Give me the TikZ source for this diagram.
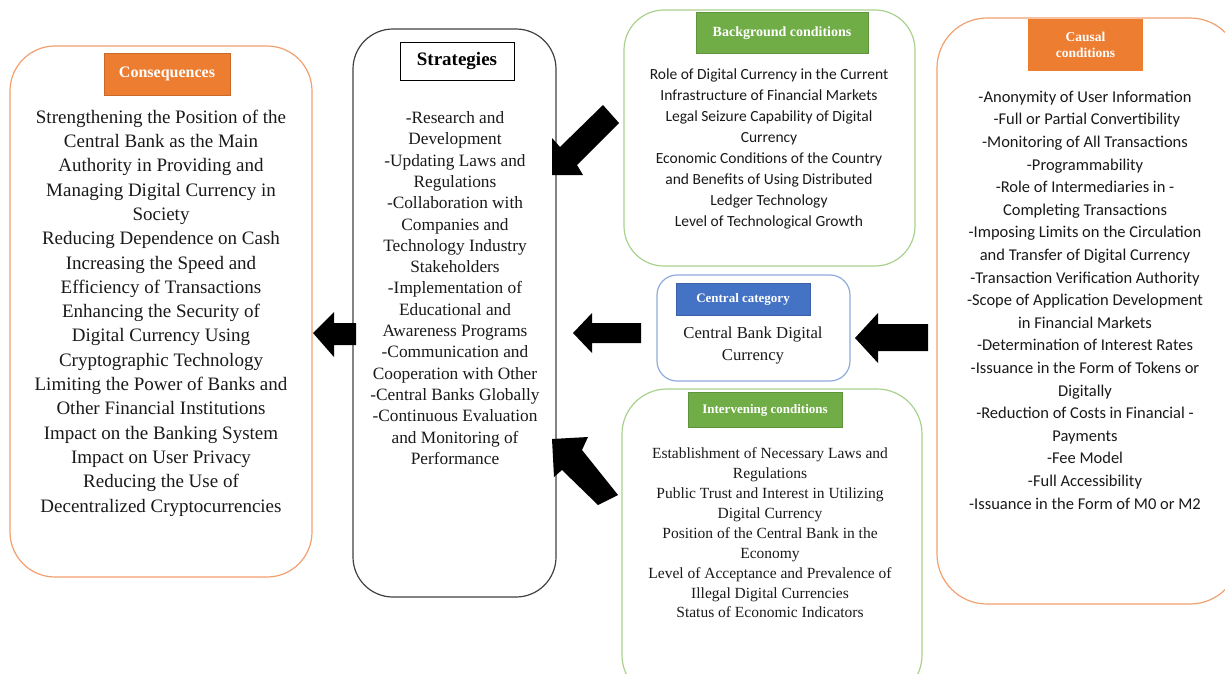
\documentclass[tikz,border=0pt]{standalone}
\usepackage{fontspec}
\setmainfont{Liberation Serif}
\newfontfamily\calfont{Carlito}
\definecolor{orfill}{RGB}{237,125,49}
\definecolor{orline}{RGB}{242,160,110}
\definecolor{grfill}{RGB}{112,173,71}
\definecolor{grline}{RGB}{169,209,142}
\definecolor{blfill}{RGB}{68,114,196}
\definecolor{blline}{RGB}{143,170,220}
\definecolor{txt}{RGB}{25,25,25}
\begin{document}
\begin{tikzpicture}[x=1pt,y=-1pt,
  frame/.style={line width=1.2pt, rounded corners=#1},
  tag/.style={inner sep=0pt, text=white, align=center, line width=0.6pt},
  body/.style={align=center, inner sep=0pt, text=txt},
  blk/.style={fill=black}]
\useasboundingbox (0,0) rectangle (1225,673);
\clip (0,0) rectangle (1225,673);

% frames
\draw[orline, frame=45pt] (10,46) rectangle (312,577);
\draw[black!75, frame=40pt] (353,29) rectangle (556,597);
\draw[grline, frame=40pt] (624,10) rectangle (915,266);
\draw[blline, frame=20pt] (657,275) rectangle (850,381);
\draw[grline, frame=45pt] (622,389) rectangle (922,700);
\draw[orline, frame=50pt] (937,18) rectangle (1240,604);

% tags
\node[tag, fill=orfill, draw=orfill!85!black, minimum width=126pt, minimum height=42pt, font=\bfseries\fontsize{16}{18}\selectfont] (consT) at (167,74) {Consequences};
\node[tag, fill=white, text=black, draw=black, minimum width=114pt, minimum height=38pt, font=\bfseries\fontsize{19}{22}\selectfont] (stratT) at (457,61) {Strategies};
\node[tag, fill=grfill, draw=grfill!85!black, minimum width=172pt, minimum height=41pt, font=\bfseries\fontsize{14}{16}\selectfont] (backT) at (782,33) {Background conditions};
\node[tag, fill=blfill, draw=blfill!85!black, minimum width=134pt, minimum height=32pt, font=\bfseries\fontsize{13}{15}\selectfont] (centT) at (743,299.5) {Central category};
\node[tag, fill=grfill, draw=grfill!85!black, minimum width=154pt, minimum height=35pt, font=\bfseries\fontsize{13}{15}\selectfont] (intT) at (765,410) {Intervening conditions};
\node[tag, fill=orfill, minimum width=115pt, minimum height=52pt, font=\bfseries\fontsize{13.5}{15.5}\selectfont] (causT) at (1085.5,45) {Causal\\conditions};

% texts
\node[body, font=\fontsize{19}{24.3}\selectfont] (consB) at (161,313) {Strengthening the Position of the\\Central Bank as the Main\\Authority in Providing and\\Managing Digital Currency in\\Society\\Reducing Dependence on Cash\\Increasing the Speed and\\Efficiency of Transactions\\Enhancing the Security of\\Digital Currency Using\\Cryptographic Technology\\Limiting the Power of Banks and\\Other Financial Institutions\\Impact on the Banking System\\Impact on User Privacy\\Reducing the Use of\\Decentralized Cryptocurrencies};

\node[body, font=\fontsize{17.3}{21.3}\selectfont] (stratB) at (455,288) {-Research and\\Development\\-Updating Laws and\\Regulations\\-Collaboration with\\Companies and\\Technology Industry\\Stakeholders\\-Implementation of\\Educational and\\Awareness Programs\\-Communication and\\Cooperation with Other\\-Central Banks Globally\\-Continuous Evaluation\\and Monitoring of\\Performance};

\node[body, font=\calfont\fontsize{15.5}{21}\selectfont] (backB) at (769,149) {Role of Digital Currency in the Current\\Infrastructure of Financial Markets\\Legal Seizure Capability of Digital\\Currency\\Economic Conditions of the Country\\and Benefits of Using Distributed\\Ledger Technology\\Level of Technological Growth};

\node[body, font=\fontsize{16.7}{22}\selectfont] (centB) at (753,345.5) {Central Bank Digital\\Currency};

\node[body, font=\fontsize{15.5}{19.9}\selectfont] (intB) at (770,533) {Establishment of Necessary Laws and\\Regulations\\Public Trust and Interest in Utilizing\\Digital Currency\\Position of the Central Bank in the\\Economy\\Level of Acceptance and Prevalence of\\Illegal Digital Currencies\\Status of Economic Indicators};

\node[body, font=\calfont\fontsize{16.5}{22.6}\selectfont] (causB) at (1085,300) {-Anonymity of User Information\\\ -Full or Partial Convertibility\\-Monitoring of All Transactions\\-Programmability\\-Role of Intermediaries in -\\Completing Transactions\\-Imposing Limits on the Circulation\\and Transfer of Digital Currency\\-Transaction Verification Authority\\-Scope of Application Development\\in Financial Markets\\-Determination of Interest Rates\\-Issuance in the Form of Tokens or\\Digitally\\-Reduction of Costs in Financial -\\Payments\\-Fee Model\\-Full Accessibility\\-Issuance in the Form of M0 or M2};

% block arrows
\fill[blk] (552,175) -- (552,138) -- (560,147) -- (603,105) -- (619,123) -- (577,165) -- (583,175) -- cycle;
\fill[blk] (552,439) -- (588,437) -- (582,450) -- (618,495) -- (598,505) -- (562,470) -- (554,477) -- cycle;
\fill[blk] (313,333) -- (334,312) -- (334,323) -- (356,323) -- (356,345) -- (334,345) -- (334,357) -- cycle;
\fill[blk] (573,333) -- (592,313) -- (592,323) -- (641,323) -- (641,343) -- (592,343) -- (592,353) -- cycle;
\fill[blk] (855,338) -- (878,313) -- (878,324) -- (928,324) -- (928,351) -- (878,351) -- (878,363) -- cycle;
\end{tikzpicture}
\end{document}
